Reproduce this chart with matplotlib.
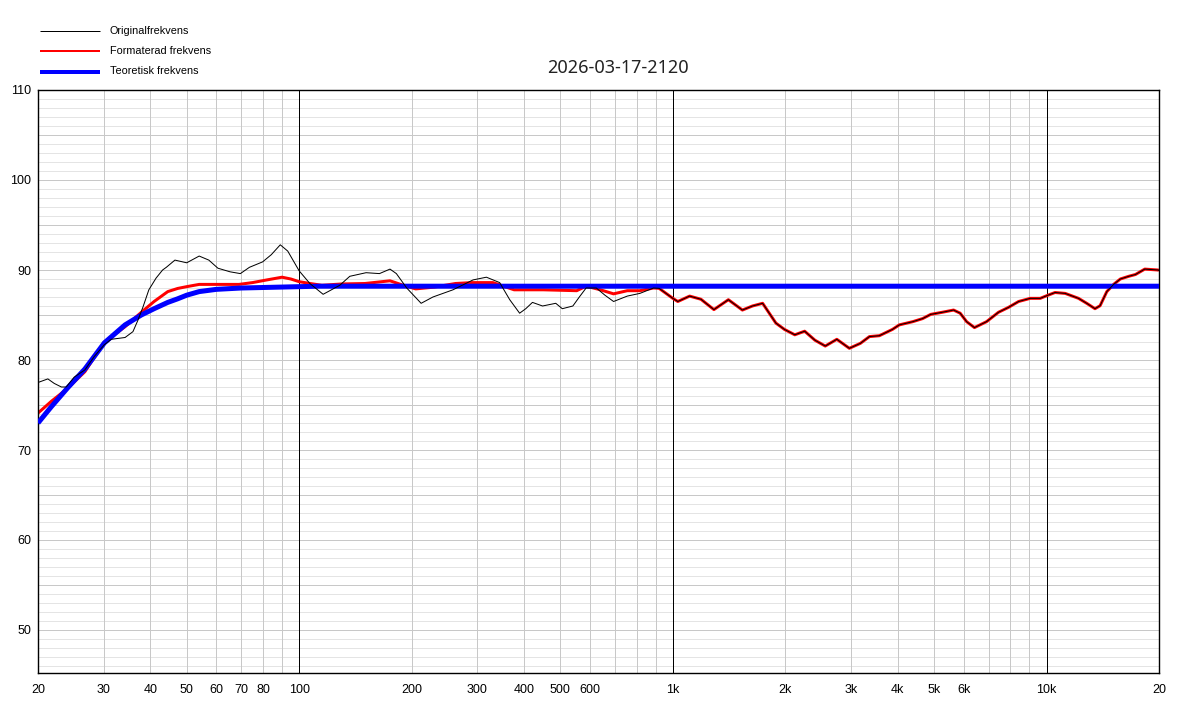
import matplotlib
matplotlib.use("Agg")
import matplotlib.pyplot as plt
from matplotlib.lines import Line2D
import numpy as np

plt.rcParams['font.family'] = ['Liberation Sans', 'DejaVu Sans']

# ---------------- data ----------------
title = "2026-03-17-2120"
series_names = ["Originalfrekvens", "Formaterad frekvens", "Teoretisk frekvens"]

# Original response, low band (below ~900 Hz)
orig_low_f = [20, 21.25, 22.1, 23.1, 23.8, 25.0, 26.7, 28.3, 30.1, 31.4, 34.2, 35.9, 37.0, 38.2,
              39.6, 41.4, 43.1, 44.1, 46.5, 50, 54, 57.3, 60.6, 65.3, 69.6, 73.6, 79.8, 84.2, 89,
              93.2, 100, 106.8, 115.9, 128.4, 136.6, 151, 164, 175, 182, 194, 212, 228, 258, 292,
              317, 344, 366, 389, 404, 421, 448, 486, 506, 540, 562, 586, 624, 658, 694, 755, 816, 888]
orig_low_db = [77.5, 77.9, 77.4, 77.0, 77.0, 78.1, 78.9, 80.4, 81.7, 82.3, 82.5, 83.15, 84.4, 85.9,
               87.8, 89.1, 90.0, 90.3, 91.1, 90.8, 91.55, 91.1, 90.2, 89.8, 89.6, 90.3, 90.9, 91.7, 92.8,
               92.1, 89.9, 88.5, 87.3, 88.3, 89.3, 89.7, 89.6, 90.1, 89.6, 88.0, 86.3, 87.0, 87.8, 88.9,
               89.2, 88.6, 86.7, 85.2, 85.7, 86.4, 86.0, 86.3, 85.7, 86.0, 87.0, 88.0, 88.0, 87.2, 86.5,
               87.1, 87.4, 88.0]

# Shared high band (original == formatted above ~900 Hz)
high_f = [919, 1000, 1031, 1109, 1189, 1288, 1408, 1535, 1633, 1739, 1887, 1989, 2120, 2253, 2400,
          2558, 2747, 2967, 3176, 3358, 3570, 3870, 4036, 4387, 4660, 4900, 5256, 5640, 5874, 6112,
          6414, 6911, 7436, 7913, 8420, 9045, 9620, 10020, 10540, 11220, 12180, 12810, 13480, 13910,
          14500, 15120, 15760, 16600, 17300, 18320, 19880, 20000]
high_db = [87.96, 86.85, 86.5, 87.1, 86.75, 85.6, 86.7, 85.55, 86.0, 86.3, 84.1, 83.4, 82.8, 83.2, 82.2,
           81.55, 82.3, 81.3, 81.85, 82.6, 82.7, 83.4, 83.9, 84.26, 84.6, 85.07, 85.3, 85.55, 85.2, 84.26,
           83.6, 84.26, 85.3, 85.85, 86.5, 86.85, 86.85, 87.15, 87.5, 87.4, 86.85, 86.3, 85.7, 86.03,
           87.6, 88.4, 89.0, 89.3, 89.5, 90.1, 90.0, 89.95]

# Formatted response, low band
fmt_low_f = [20, 21.7, 24.0, 26.7, 30.1, 34.2, 37.8, 40.9, 44.5, 47.3, 50, 54, 60, 69, 75, 82, 90, 95,
             100, 107, 115, 130, 150, 175, 190, 205, 230, 262, 290, 330, 376, 404, 450, 553, 586, 640,
             694, 755, 816, 888]
fmt_low_db = [74.1, 75.4, 76.85, 78.7, 82.0, 83.7, 85.3, 86.5, 87.6, 87.95, 88.15, 88.4, 88.4, 88.4, 88.6,
              88.9, 89.2, 89.0, 88.7, 88.5, 88.3, 88.45, 88.5, 88.8, 88.3, 87.9, 88.1, 88.5, 88.6, 88.6,
              87.8, 87.8, 87.8, 87.7, 88.2, 87.8, 87.35, 87.7, 87.7, 88.0]

# Theoretical response
theo_f = [20, 21.7, 24.0, 26.7, 30.1, 34.2, 37.8, 40.9, 44.5, 47.3, 50, 54, 60, 70, 89, 113, 20000]
theo_db = [73.0, 74.8, 76.9, 79.0, 81.9, 83.9, 85.0, 85.7, 86.4, 86.8, 87.2, 87.6, 87.85, 88.0, 88.1,
           88.2, 88.2]

x_tick_values = [20, 30, 40, 50, 60, 70, 80, 100, 200, 300, 400, 500, 600, 1000, 2000, 3000, 4000,
                 5000, 6000, 10000, 20000]
x_tick_labels = ["20", "30", "40", "50", "60", "70", "80", "100", "200", "300", "400", "500", "600",
                 "1k", "2k", "3k", "4k", "5k", "6k", "10k", "20"]
y_tick_values = [50, 60, 70, 80, 90, 100, 110]

# ---------------- figure ----------------
W, H = 1200, 705
fig = plt.figure(figsize=(W / 100, H / 100), dpi=100)
L, R, T, B = 38, 1159, 90, 673
ax = fig.add_axes([L / W, 1 - B / H, (R - L) / W, (B - T) / H])
ax.set_xscale('log')
ax.set_xlim(20, 20000)
ax.set_ylim(110 - (B - T) / 9.0, 110)

px = 0.72  # one pixel in points

# grid: minor horizontal every 1 dB, major every 5 dB
for v in range(46, 111):
    col = '#c8c8c8' if v % 5 == 0 else '#e4e4e4'
    ax.axhline(v, color=col, lw=px, zorder=0)
for dec in [10, 100, 1000, 10000]:
    for m in range(2, 10):
        f = dec * m
        if 20 < f < 20000:
            ax.axvline(f, color='#c8c8c8', lw=px, zorder=0.5)
for f in [100, 1000, 10000]:
    ax.axvline(f, color='black', lw=px, zorder=0.6)

fmt_f = fmt_low_f + high_f
fmt_db = fmt_low_db + high_db
orig_f = orig_low_f + high_f
orig_db = orig_low_db + high_db

ax.plot(fmt_f, fmt_db, color='#ff0000', lw=3 * px, zorder=2, solid_capstyle='butt')
ax.plot(theo_f, theo_db, color='#0000ff', lw=5 * px, zorder=3, solid_capstyle='butt')
ax.plot(orig_f, orig_db, color='black', lw=1 * px, zorder=4)

ax.set_xticks(x_tick_values)
ax.set_xticklabels(x_tick_labels)
ax.xaxis.set_minor_locator(matplotlib.ticker.NullLocator())
ax.set_yticks(y_tick_values)
ax.set_yticklabels([str(v) for v in y_tick_values])
ax.tick_params(axis='both', length=0, labelsize=9, colors='black')
ax.tick_params(axis='x', pad=8)
ax.tick_params(axis='y', pad=5)
for s in ax.spines.values():
    s.set_linewidth(1.4 * px)
    s.set_color('black')

# legend drawn in figure pixels
colors = ['black', '#ff0000', '#0000ff']
widths = [1 * px, 2 * px, 4 * px]
ys = [31, 51, 71.5]
for name, c, w, y in zip(series_names, colors, widths, ys):
    fig.add_artist(Line2D([40 / W, 100 / W], [1 - y / H, 1 - y / H], color=c, lw=w,
                          transform=fig.transFigure, solid_capstyle='butt'))
    fig.text(110 / W, 1 - y / H, name, fontsize=7.8, va='center', ha='left', color='black')

fig.text(618 / W, 1 - 68 / H, title, fontsize=13, ha='center', va='center',
         family=['Noto Sans', 'DejaVu Sans'], color='#222222')

fig.savefig('out.png', dpi=100)
